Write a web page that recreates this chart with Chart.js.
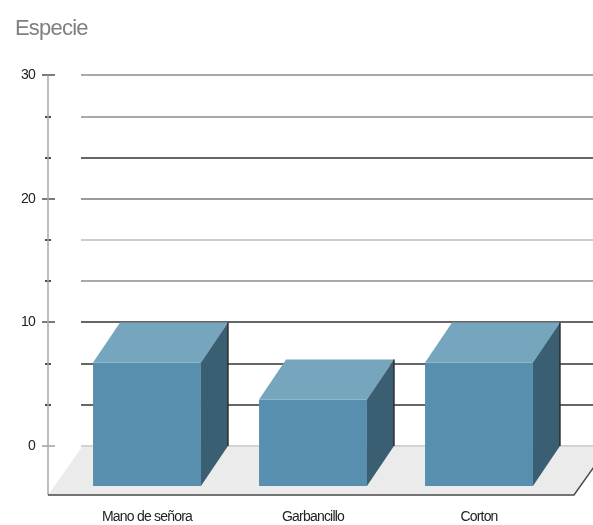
<!DOCTYPE html>
<html>
<head>
<meta charset="utf-8">
<style>
  html, body { margin: 0; padding: 0; background: #fff; }
  canvas { display: block; }
</style>
<script src="https://cdn.jsdelivr.net/npm/chart.js@4/dist/chart.umd.min.js"></script>
</head>
<body>
<canvas id="bar-chart" width="593" height="525"></canvas>
<script>
var categories = ['Mano de señora', 'Garbancillo', 'Corton'];
var values = [10, 7, 10];
var labelledTicks = [0, 10, 20, 30];
var gridColors = ['#c4c4c4', '#333333', '#333333', '#333333', '#8c8c8c', '#bdbdbd', '#7a7a7a', '#333333', '#8c8c8c', '#8c8c8c'];

var FONT = '"Liberation Sans", Arial, sans-serif';
var DX = 27, DY = 40;
var FLOOR_DX = 34, FLOOR_DY = 49;

var box3d = {
  id: 'box3d',
  beforeDraw: function (chart) {
    // the reference text is squeezed sideways
    chart.ctx.letterSpacing = '-0.8px';
  },
  beforeDatasetsDraw: function (chart) {
    var ctx = chart.ctx, y = chart.scales.y, area = chart.chartArea;
    var zero = y.getPixelForValue(0);
    var axisX = 48, floorY = zero + FLOOR_DY, floorRight = 574;

    ctx.save();
    // floor
    ctx.fillStyle = '#ebebeb';
    ctx.beginPath();
    ctx.moveTo(axisX, floorY);
    ctx.lineTo(axisX + FLOOR_DX, zero + 1);
    ctx.lineTo(floorRight + FLOOR_DX, zero + 1);
    ctx.lineTo(floorRight, floorY);
    ctx.closePath();
    ctx.fill();

    // grid, wider than the category band
    y.ticks.forEach(function (t, i) {
      var py = Math.round(y.getPixelForValue(t.value));
      ctx.strokeStyle = gridColors[i];
      ctx.lineWidth = 1.5;
      ctx.beginPath();
      ctx.moveTo(81, py);
      ctx.lineTo(593, py);
      ctx.stroke();

      var major = t.label !== '';
      ctx.strokeStyle = i === 0 ? '#888888' : '#222222';
      ctx.lineWidth = major ? 1.2 : 1.6;
      ctx.beginPath();
      ctx.moveTo(major ? 42 : 45, py);
      ctx.lineTo(major ? 55 : 51, py);
      ctx.stroke();
    });

    // left axis
    ctx.strokeStyle = '#a8a8a8';
    ctx.lineWidth = 1.5;
    ctx.beginPath();
    ctx.moveTo(axisX, area.top);
    ctx.lineTo(axisX, floorY);
    ctx.stroke();

    // floor front edge
    ctx.strokeStyle = '#4a4a4a';
    ctx.lineWidth = 1.5;
    ctx.beginPath();
    ctx.moveTo(axisX, floorY);
    ctx.lineTo(floorRight, floorY);
    ctx.lineTo(floorRight + FLOOR_DX, zero + 1);
    ctx.stroke();
    ctx.restore();
  },
  beforeDatasetDraw: function (chart) {
    chart.ctx.save();
    chart.ctx.translate(-DX, DY);
  },
  afterDatasetDraw: function (chart, args) {
    var ctx = chart.ctx;
    ctx.restore();
    args.meta.data.forEach(function (bar) {
      var l = bar.x - bar.width / 2, r = bar.x + bar.width / 2;
      // top face
      ctx.fillStyle = '#76a5be';
      ctx.beginPath();
      ctx.moveTo(l, bar.y);
      ctx.lineTo(r, bar.y);
      ctx.lineTo(r - DX, bar.y + DY);
      ctx.lineTo(l - DX, bar.y + DY);
      ctx.closePath();
      ctx.fill();
      // side face
      ctx.fillStyle = '#3a5e72';
      ctx.beginPath();
      ctx.moveTo(r, bar.y);
      ctx.lineTo(r, bar.base);
      ctx.lineTo(r - DX, bar.base + DY);
      ctx.lineTo(r - DX, bar.y + DY);
      ctx.closePath();
      ctx.fill();
      // dark back edge
      ctx.strokeStyle = '#2b2b2b';
      ctx.lineWidth = 1.5;
      ctx.beginPath();
      ctx.moveTo(r, bar.y);
      ctx.lineTo(r, bar.base);
      ctx.stroke();
    });
  }
};

new Chart(document.getElementById('bar-chart').getContext('2d'), {
  type: 'bar',
  plugins: [box3d],
  data: {
    labels: categories,
    datasets: [{
      data: values,
      backgroundColor: '#588fae',
      borderWidth: 0,
      barPercentage: 0.65,
      categoryPercentage: 1,
      clip: false
    }]
  },
  options: {
    responsive: false,
    animation: false,
    events: [],
    layout: { padding: { left: 15, right: 4 } },
    plugins: {
      legend: { display: false },
      tooltip: { enabled: false },
      title: {
        display: true,
        text: 'Especie',
        align: 'start',
        color: '#808080',
        font: { family: FONT, size: 22, weight: 'normal' },
        padding: { top: 16, bottom: 33 }
      }
    },
    scales: {
      x: {
        border: { display: false },
        grid: { display: false, drawTicks: false },
        afterFit: function (scale) { scale.height = 79; },
        ticks: {
          color: '#222222',
          labelOffset: -DX,
          padding: 63,
          maxRotation: 0,
          font: { family: FONT, size: 14 }
        }
      },
      y: {
        min: 0,
        max: 30,
        border: { display: false },
        grid: { display: false, drawTicks: false },
        afterFit: function (scale) { scale.width = 76; },
        ticks: {
          stepSize: 10 / 3,
          autoSkip: false,
          color: '#222222',
          padding: 56,
          font: { family: FONT, size: 14 },
          callback: function (v) {
            var n = Math.round(v);
            return Math.abs(v - n) < 0.01 && labelledTicks.indexOf(n) >= 0 ? String(n) : '';
          }
        }
      }
    }
  }
});
</script>
</body>
</html>
